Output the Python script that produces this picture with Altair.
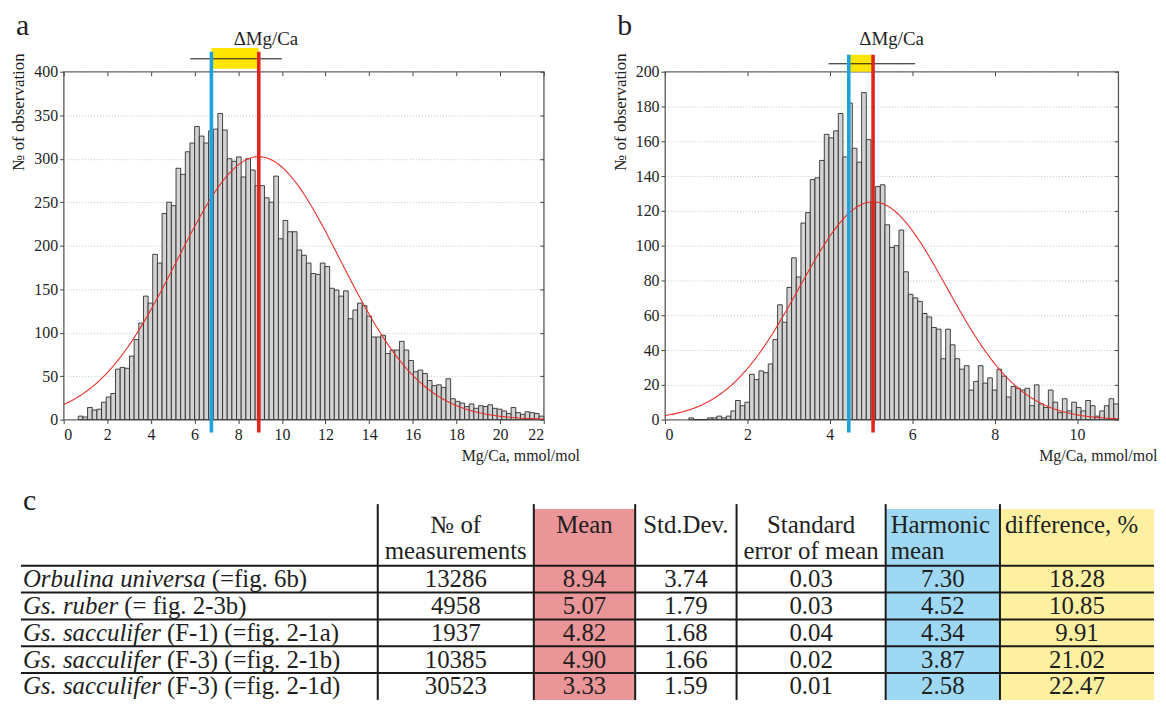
import math
import altair as alt
import pandas as pd

FONT = "Liberation Serif"

# ---------------- histogram a (counts per bin) ----------------
a_counts = [4, 3, 14, 11, 12, 20, 26, 30, 58, 60,
            59, 73, 92, 111, 142, 134, 190, 180, 237, 250,
            246, 289, 282, 308, 318, 337, 326, 318, 332, 334,
            352, 333, 300, 297, 302, 279, 300, 287, 269, 269,
            255, 250, 280, 208, 229, 216, 216, 195, 189, 180,
            168, 167, 180, 176, 151, 149, 142, 148, 116, 126,
            134, 131, 119, 95, 95, 97, 76, 80, 80, 90,
            80, 68, 55, 57, 53, 45, 39, 40, 37, 47,
            24, 21, 19, 15, 18, 13, 16, 15, 17, 13,
            12, 10, 7, 14, 8, 6, 9, 8, 7, 4]
a_first_edge = 0.67
a_bin_width = 0.2133
a_harmonic = 6.77
a_mean = 8.94
a_sd = 3.74
a_n = 13286
a_delta_bar = [5.8, 10.0]
a_delta_label_x = 9.27

# ---------------- histogram b ----------------
b_counts = [1, 0, 0, 0, 1, 1, 2, 1, 2, 5,
            11, 8, 10, 26, 23, 28, 27, 32, 46, 66,
            56, 76, 93, 82, 113, 119, 138, 139, 149, 164,
            162, 166, 176, 151, 182, 156, 148, 188, 161, 125,
            134, 135, 112, 99, 100, 109, 85, 72, 70, 68,
            61, 59, 53, 52, 35, 52, 43, 35, 29, 31,
            17, 22, 31, 21, 24, 17, 29, 25, 13, 19,
            18, 17, 18, 8, 20, 9, 7, 17, 10, 4,
            12, 5, 10, 7, 5, 11, 8, 2, 5, 8,
            12, 9]
b_first_edge = 0.58
b_bin_width = 0.1133
b_harmonic = 4.46
b_mean = 5.05
b_sd = 1.79
b_n = 4958
b_delta_bar = [3.97, 6.07]
b_delta_label_x = 5.5

# ---------------- table ----------------
tbl_species = ["Orbulina universa", "Gs. ruber", "Gs. sacculifer", "Gs. sacculifer", "Gs. sacculifer"]
tbl_suffix = ["(=fig. 6b)", "(= fig. 2-3b)", "(F-1) (=fig. 2-1a)", "(F-3) (=fig. 2-1b)", "(F-3) (=fig. 2-1d)"]
tbl_n = ["13286", "4958", "1937", "10385", "30523"]
tbl_mean = ["8.94", "5.07", "4.82", "4.90", "3.33"]
tbl_sd = ["3.74", "1.79", "1.68", "1.66", "1.59"]
tbl_se = ["0.03", "0.03", "0.04", "0.02", "0.01"]
tbl_harm = ["7.30", "4.52", "4.34", "3.87", "2.58"]
tbl_diff = ["18.28", "10.85", "9.91", "21.02", "22.47"]

# ---------------- styles / layout ----------------
BAR_FILL = "#d3d3d3"
BAR_STROKE = "#2f2f2f"
CURVE_RED = "#e8302a"
LINE_BLUE = "#1ea2de"
LINE_RED = "#e3231c"
YELLOW = "#ffe500"
FRAME = "#5a5a5a"
TXT = "#1e1e1e"
PINK_BG = "#ea9597"
BLUE_BG = "#9ed8f2"
YELLOW_BG = "#fdf0a0"


def hist_panel(letter, counts, first, bw, x_max, x_ticks, y_max, y_ticks,
               harm, mean, sd, n, delta_bar, delta_x, width, height,
               box_top, box_bottom, line_top, bar_y, xtitle_x):
    df = pd.DataFrame({"count": counts})
    df["i"] = range(len(counts))
    df["x0"] = first + df["i"] * bw
    df["x1"] = df["x0"] + bw

    xs = alt.Scale(domain=[0, x_max], nice=False, zero=False)
    ys = alt.Scale(domain=[0, y_max], nice=False, zero=False)

    bars = alt.Chart(df).mark_rect(fill=BAR_FILL, stroke=BAR_STROKE, strokeWidth=0.9).encode(
        x=alt.X("x0:Q", scale=xs, axis=alt.Axis(
            orient="bottom", values=x_ticks, format="d", domain=False, grid=False,
            tickSize=4, labelPadding=3, title="Mg/Ca, mmol/mol", titleFontSize=16,
            titleX=xtitle_x, titleY=36, titleAlign="right", titleBaseline="middle")),
        x2="x1",
        y=alt.Y("count:Q", scale=ys, axis=alt.Axis(
            orient="left", values=y_ticks, format="d", domain=False, grid=True,
            gridColor="#c4c4c4", gridDash=[1, 2], gridWidth=1,
            tickSize=4, labelPadding=2, title="№ of observation", titleFontSize=17,
            titleAngle=270, titleX=-45, titleY=-19, titleAlign="right", titleBaseline="middle")),
        y2=alt.datum(0),
    )

    peak = n * bw / (sd * math.sqrt(2 * math.pi))
    curve = alt.Chart(alt.sequence(0, x_max + 0.001, x_max / 400.0, as_="x")).transform_calculate(
        y=f"{peak}*exp(-0.5*pow((datum.x-{mean})/{sd},2))"
    ).mark_line(color=CURVE_RED, strokeWidth=1.1).encode(
        x=alt.X("x:Q", scale=xs, axis=alt.Axis(
            orient="top", values=x_ticks, labels=False, title=None, domain=False,
            grid=False, tickSize=4, offset=-4)),
        y=alt.Y("y:Q", scale=ys, axis=alt.Axis(
            orient="right", values=y_ticks, labels=False, title=None, domain=False,
            grid=False, tickSize=4, offset=-4)),
    )

    box = alt.Chart(pd.DataFrame({"lo": [harm], "hi": [mean]})).mark_rect(color=YELLOW).encode(
        x=alt.X("lo:Q", scale=xs, axis=None), x2="hi",
        y=alt.value(box_top), y2=alt.value(box_bottom))

    dbar = alt.Chart(pd.DataFrame({"lo": [delta_bar[0]], "hi": [delta_bar[1]]})).mark_rule(
        color="#111111", strokeWidth=1).encode(
        x=alt.X("lo:Q", scale=xs, axis=None), x2="hi", y=alt.value(bar_y))

    vl = alt.Chart(pd.DataFrame({"v": [harm, mean], "c": [LINE_BLUE, LINE_RED]})).mark_rule(
        strokeWidth=3.6).encode(
        x=alt.X("v:Q", scale=xs, axis=None),
        y=alt.value(line_top), y2=alt.value(height + 13),
        color=alt.Color("c:N", scale=None))

    dtext = alt.Chart(pd.DataFrame({"x": [delta_x], "t": ["ΔMg/Ca"]})).mark_text(
        fontSize=19, color=TXT, baseline="middle").encode(
        x=alt.X("x:Q", scale=xs, axis=None), y=alt.value(-33), text="t:N")

    ltext = alt.Chart(pd.DataFrame({"t": [letter]})).mark_text(
        fontSize=30, color=TXT, align="left", baseline="alphabetic").encode(
        x=alt.value(-48), y=alt.value(-37), text="t:N")

    # invisible spacer fixing the lower edge of the panel block (for the layout below)
    spacer = alt.Chart(pd.DataFrame({"t": [0]})).mark_rule(strokeOpacity=0, strokeWidth=1).encode(
        x=alt.value(0), x2=alt.value(10), y=alt.value(height + 50))

    return alt.layer(bars, curve, box, dbar, vl, dtext, ltext, spacer).resolve_axis(
        x="independent", y="independent").properties(
        width=width, height=height,
        view=alt.ViewBackground(stroke=FRAME, strokeWidth=1.3))


panel_a = hist_panel("a", a_counts, a_first_edge, a_bin_width, 22, list(range(0, 23, 2)),
                     400, list(range(0, 401, 50)), a_harmonic, a_mean, a_sd, a_n,
                     a_delta_bar, a_delta_label_x, 483, 350, -24, -3, -20, -13, 519)
panel_b = hist_panel("b", b_counts, b_first_edge, b_bin_width, 11, list(range(0, 11, 2)),
                     200, list(range(0, 201, 20)), b_harmonic, b_mean, b_sd, b_n,
                     b_delta_bar, b_delta_label_x, 456, 350, -17, 0, -17, -8, 495)

top = alt.hconcat(panel_a, panel_b, spacing=122).properties(bounds="flush")

# ---------------- table chart ----------------
col_edges = [0, 359, 516, 618, 720, 870, 985, 1140]   # px, table coordinates
TW, TH = 1140, 197
TBL_X0 = 43      # table coordinate that sits under the left edge of panel a
HEAD = 62
ROW_H = (TH - HEAD) / 5
row_edges = [0] + [HEAD + ROW_H * r for r in range(6)]
FS = 25

tx = alt.Scale(domain=[TBL_X0, TW], nice=False, zero=False)
ty = alt.Scale(domain=[0, TH], nice=False, zero=False, reverse=True)

bg = pd.DataFrame({
    "x0": [col_edges[2], col_edges[5], col_edges[6]],
    "x1": [col_edges[3], col_edges[6], col_edges[7]],
    "y0": [5, 5, 5], "y1": [TH, TH, TH],
    "c": [PINK_BG, BLUE_BG, YELLOW_BG]})
bg_layer = alt.Chart(bg).mark_rect().encode(
    x=alt.X("x0:Q", scale=tx, axis=None), x2="x1",
    y=alt.Y("y0:Q", scale=ty, axis=None), y2="y1",
    color=alt.Color("c:N", scale=None))

hl = pd.DataFrame({"y": row_edges[1:-1], "x0": 0, "x1": TW})
hl_layer = alt.Chart(hl).mark_rule(color="#1a1a1a", strokeWidth=2).encode(
    x=alt.X("x0:Q", scale=tx, axis=None), x2="x1", y=alt.Y("y:Q", scale=ty, axis=None))
vlines = pd.DataFrame({"x": col_edges[1:-1], "y0": 0, "y1": TH})
vl_layer = alt.Chart(vlines).mark_rule(color="#1a1a1a", strokeWidth=2).encode(
    x=alt.X("x:Q", scale=tx, axis=None), y=alt.Y("y0:Q", scale=ty, axis=None), y2="y1")


def col_mid(i):
    return (col_edges[i] + col_edges[i + 1]) / 2


def row_mid(r):
    return (row_edges[r + 1] + row_edges[r + 2]) / 2


H1, H2 = 21, 47
center_rows = [
    (col_mid(1), H1, "№ of"), (col_mid(1), H2, "measurements"),
    (col_mid(2), H1, "Mean"), (col_mid(3), H1, "Std.Dev."),
    (col_mid(4), H1, "Standard"), (col_mid(4), H2, "error of mean"),
]
for r in range(5):
    y = row_mid(r)
    for ci, vals in zip(range(1, 7), [tbl_n, tbl_mean, tbl_sd, tbl_se, tbl_harm, tbl_diff]):
        center_rows.append((col_mid(ci), y, vals[r]))
center_df = pd.DataFrame(center_rows, columns=["x", "y", "t"])
center_layer = alt.Chart(center_df).mark_text(fontSize=FS, color=TXT, baseline="middle").encode(
    x=alt.X("x:Q", scale=tx, axis=None), y=alt.Y("y:Q", scale=ty, axis=None), text="t:N")

suffix_x = [192, 104, 147, 147, 147]   # layout: where the upright part of each label starts
left_rows = [
    (col_edges[5] + 5, H1, "Harmonic"), (col_edges[5] + 5, H2, "mean"),
    (col_edges[6] + 5, H1, "difference, %"),
]
for r in range(5):
    left_rows.append((suffix_x[r], row_mid(r), tbl_suffix[r]))
left_df = pd.DataFrame(left_rows, columns=["x", "y", "t"])
left_layer = alt.Chart(left_df).mark_text(fontSize=FS, color=TXT, align="left", baseline="middle").encode(
    x=alt.X("x:Q", scale=tx, axis=None), y=alt.Y("y:Q", scale=ty, axis=None), text="t:N")

ital_df = pd.DataFrame({"x": [2] * 5, "y": [row_mid(r) for r in range(5)], "t": tbl_species})
ital_layer = alt.Chart(ital_df).mark_text(fontSize=FS, color=TXT, align="left", baseline="middle",
                                          fontStyle="italic").encode(
    x=alt.X("x:Q", scale=tx, axis=None), y=alt.Y("y:Q", scale=ty, axis=None), text="t:N")

c_layer = alt.Chart(pd.DataFrame({"x": [2], "y": [6], "t": ["c"]})).mark_text(
    fontSize=30, color=TXT, align="left", baseline="alphabetic").encode(
    x=alt.X("x:Q", scale=tx, axis=None), y=alt.Y("y:Q", scale=ty, axis=None), text="t:N")

# invisible spacer fixing the upper edge of the table block
tspacer = alt.Chart(pd.DataFrame({"x0": [100], "x1": [140], "y": [-25]})).mark_rule(
    strokeOpacity=0, strokeWidth=1).encode(
    x=alt.X("x0:Q", scale=tx, axis=None), x2="x1", y=alt.Y("y:Q", scale=ty, axis=None))

table = alt.layer(bg_layer, hl_layer, vl_layer, center_layer, left_layer, ital_layer, c_layer,
                  tspacer).properties(
    width=TW - TBL_X0, height=TH, view=alt.ViewBackground(stroke="transparent"))

chart = alt.vconcat(top, table, spacing=8).properties(
    padding={"left": 1, "top": 0, "right": 0, "bottom": 0}
).configure(font=FONT).configure_view(stroke="transparent").configure_axis(
    labelFont=FONT, labelFontSize=16, labelColor=TXT, tickColor="#444444",
    titleFont=FONT, titleFontWeight="normal", titleColor=TXT)

chart.save("out.html", embed_options={"renderer": "svg", "actions": False})
